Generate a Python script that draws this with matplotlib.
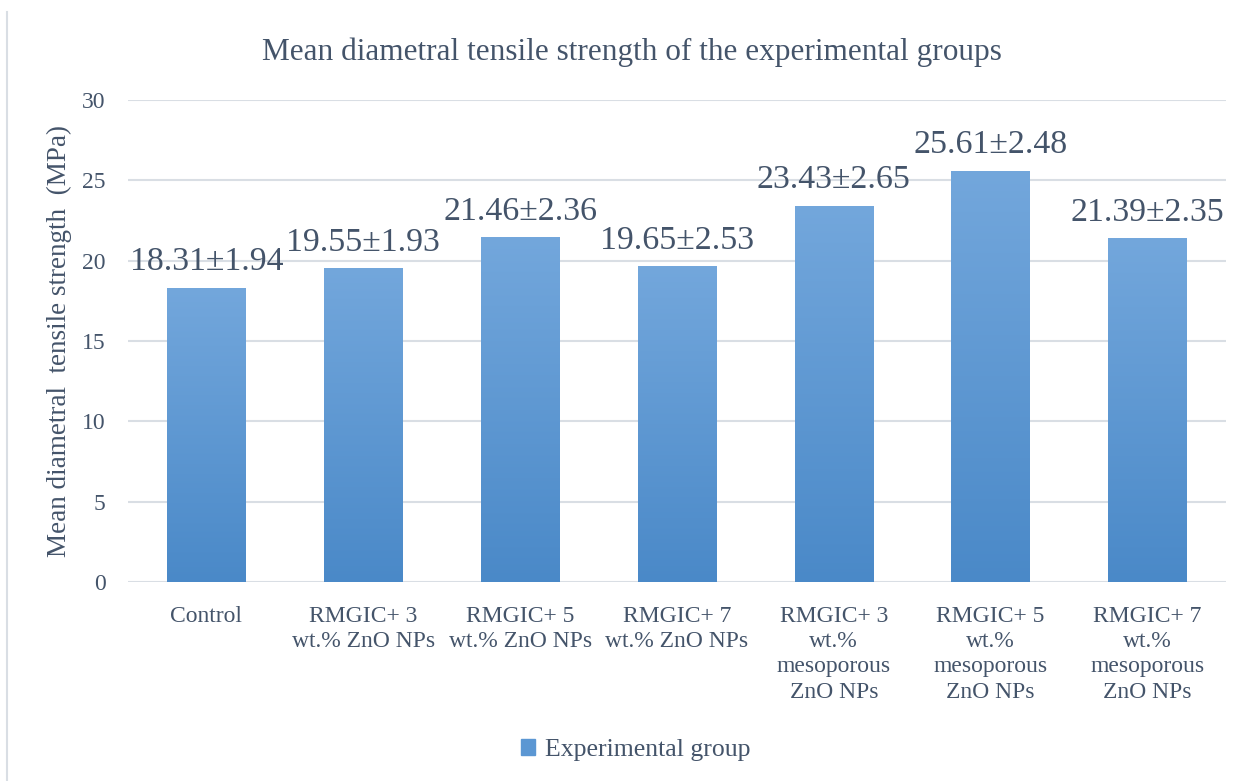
import numpy as np
import matplotlib.pyplot as plt
from matplotlib.colors import LinearSegmentedColormap
from matplotlib.patches import Rectangle

groups = ['Control',
          'RMGIC+ 3\nwt.% ZnO NPs',
          'RMGIC+ 5\nwt.% ZnO NPs',
          'RMGIC+ 7\nwt.% ZnO NPs',
          'RMGIC+ 3\nwt.%\nmesoporous\nZnO NPs',
          'RMGIC+ 5\nwt.%\nmesoporous\nZnO NPs',
          'RMGIC+ 7\nwt.%\nmesoporous\nZnO NPs']
means = [18.31, 19.55, 21.46, 19.65, 23.43, 25.61, 21.39]
sds = [1.94, 1.93, 2.36, 2.53, 2.65, 2.48, 2.35]

txt = '#44546A'
plt.rcParams['font.family'] = ['Liberation Serif', 'DejaVu Serif']

fig = plt.figure(figsize=[12.44, 7.81], dpi=100)
ax = fig.add_axes([0.1029, 0.2548, 0.8826, 0.6172])

# outer chart border (only left edge visible in reference)
fig.add_artist(plt.Line2D([7.5/1244, 7.5/1244], [1-12/781, 0], transform=fig.transFigure,
                          color='#D9DEE4', lw=1.5))

x = np.arange(len(groups))
bars = ax.bar(x, means, width=0.5, color='none', zorder=3)

cmap = LinearSegmentedColormap.from_list('g', ['#4A89C8', '#73A7DC'])
grad = np.linspace(0, 1, 256).reshape(-1, 1)
for b in bars:
    x0, w, h = b.get_x(), b.get_width(), b.get_height()
    im = ax.imshow(grad, cmap=cmap, origin='lower', aspect='auto',
                   extent=[x0, x0 + w, 0, h], zorder=3)
    im.set_clip_path(b)

for xi, m, s in zip(x, means, sds):
    ax.annotate(f'{m:.2f}±{s:.2f}', (xi, m), xytext=(0, 12.5), textcoords='offset points',
                ha='center', va='baseline', fontsize=24.4, color=txt, zorder=4)

ax.set_xlim(-0.5, len(groups) - 0.5)
ax.set_ylim(0, 30)
ax.set_yticks(range(0, 31, 5))
ax.grid(axis='y', color='#D9DEE4', lw=1.5, zorder=0)
ax.set_axisbelow(True)
for sp in ax.spines.values():
    sp.set_visible(False)
ax.tick_params(length=0, labelsize=17, labelcolor=txt)
ax.tick_params(axis='y', pad=16)
ax.tick_params(axis='x', pad=17)
ax.set_xticks(x)
ax.set_xticklabels(groups, linespacing=1.27)
ax.set_ylabel('Mean diametral  tensile strength  (MPa)', fontsize=19.5, color=txt)
ax.yaxis.set_label_coords(-0.051, 0.5)

fig.text(632/1244, 1 - 52/781, 'Mean diametral tensile strength of the experimental groups',
         fontsize=22.5, color=txt, ha='center', va='center')

fig.legend(handles=[Rectangle((0, 0), 1, 1, color='#5B97D3')],
           labels=['Experimental group'], loc='center', bbox_to_anchor=(636/1244, 1 - 750/781),
           frameon=False, fontsize=18.5, handlelength=0.55, handleheight=0.55,
           handletextpad=0.4, labelcolor=txt)

fig.savefig('out.png', dpi=100)
